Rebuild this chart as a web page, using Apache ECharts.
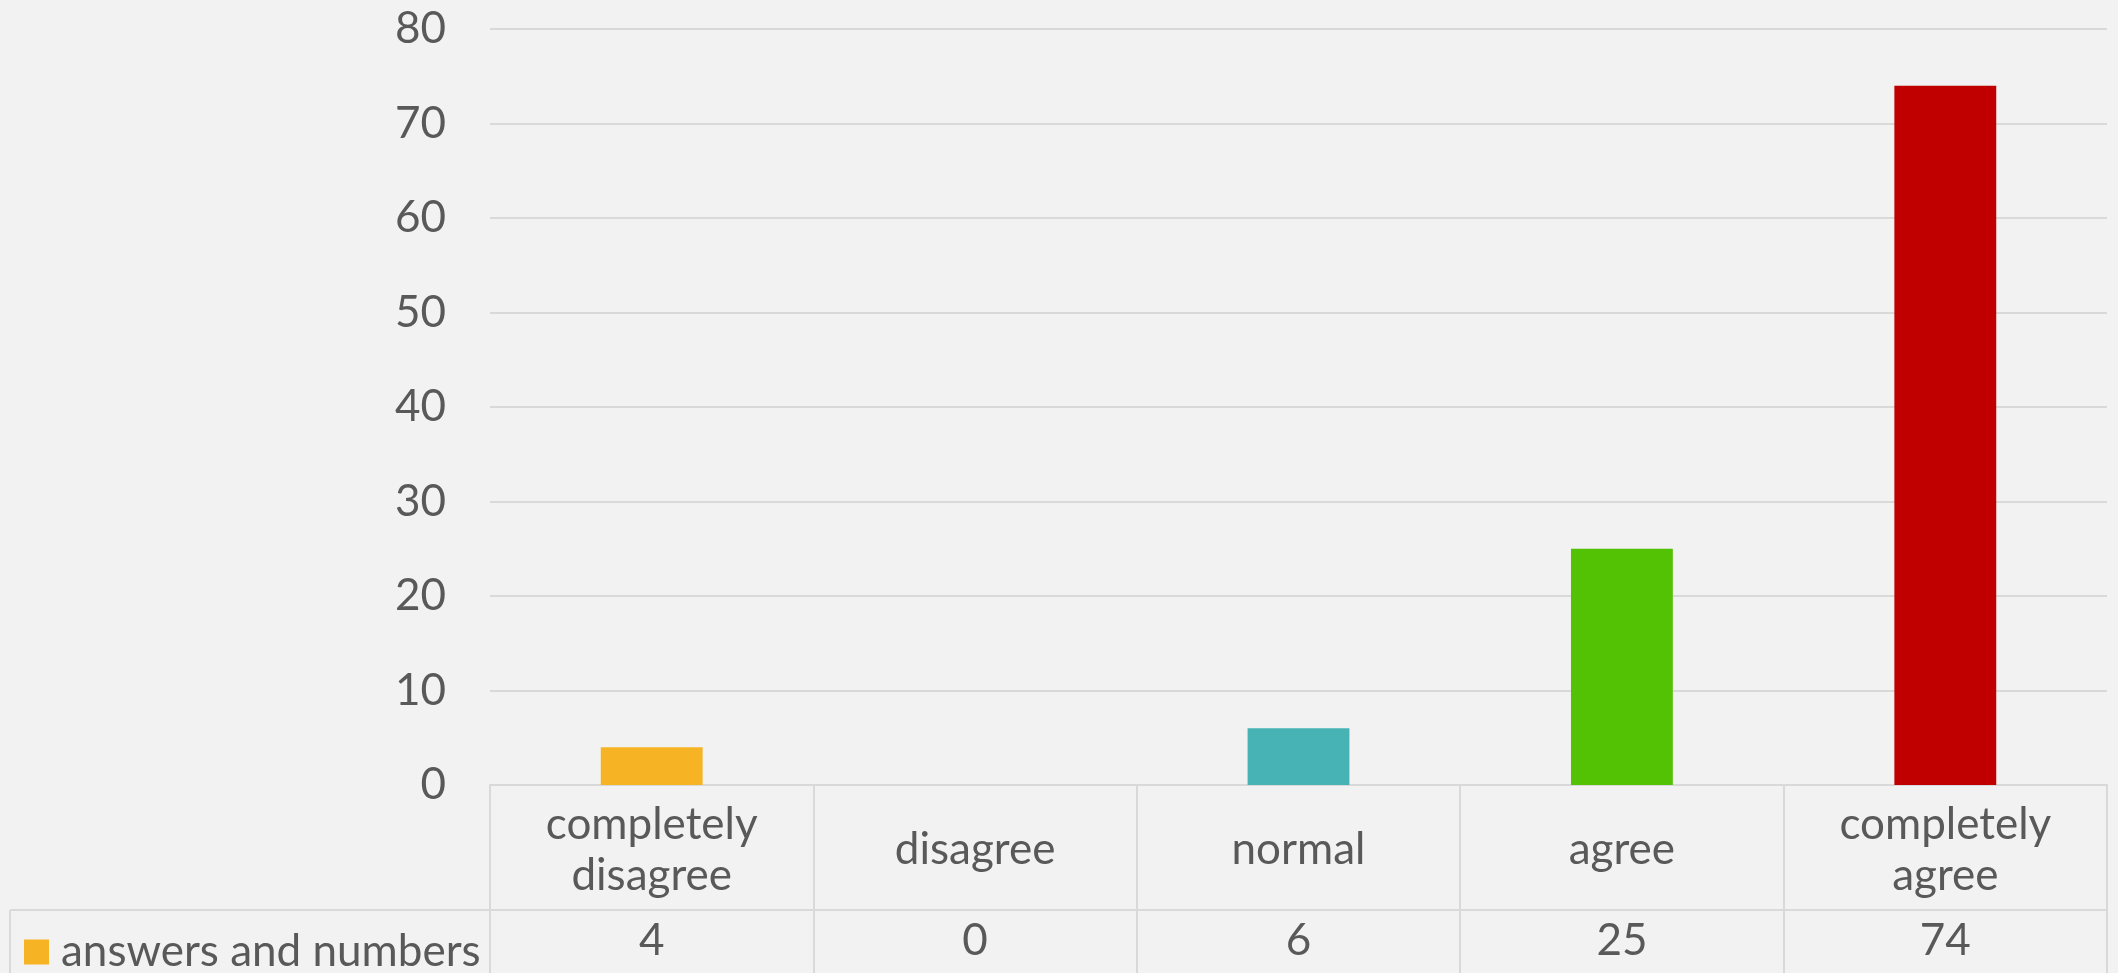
<!DOCTYPE html>
<html>
<head>
<meta charset="utf-8">
<title>answers and numbers</title>
<script src="https://cdn.jsdelivr.net/npm/echarts@6/dist/echarts.min.js"></script>
<style>
  html, body { margin: 0; padding: 0; background: #f2f2f2; }
  #chart { width: 2118px; height: 973px; }
</style>
</head>
<body>
<div id="chart"></div>
<script>
// Survey answers
const categories = ['completely\ndisagree', 'disagree', 'normal', 'agree', 'completely\nagree'];
const seriesName = 'answers and numbers';
const answerCounts = [4, 0, 6, 25, 74];
const barColors = ['#f6b323', '#a5a5a5', '#48b3b5', '#54c204', '#c00000'];
const yTicks = { min: 0, max: 80, interval: 10 };

// Layout
const W = 2118, H = 973;
const gridLeft = 490, gridRight = 11, gridTop = 29, gridBottom = 188;
const catRowH = 125;          // height of the category row of the data table
const tableLeft = 10;         // left edge of the legend cell
const lineColor = '#d9d9d9';
const textColor = '#595959';
const fontFamily = 'Lato, "Open Sans", sans-serif';
const fontSize = 44;

const axisY = H - gridBottom;           // y of the category axis line
const valueRowY = axisY + catRowH;      // top of the value row

const chart = echarts.init(document.getElementById('chart'), null, { renderer: 'canvas' });

chart.setOption({
  backgroundColor: '#f2f2f2',
  animation: false,
  textStyle: { fontFamily: fontFamily, color: textColor },
  grid: { left: gridLeft, right: gridRight, top: gridTop, bottom: gridBottom, containLabel: false },
  legend: {
    data: [seriesName],
    left: 24,
    top: valueRowY + 20,
    itemWidth: 25,
    itemHeight: 25,
    icon: 'rect',
    padding: 0,
    textStyle: { fontFamily: fontFamily, fontSize: fontSize, color: textColor, padding: [0, 0, 0, 7] }
  },
  xAxis: [
    {
      type: 'category',
      position: 'bottom',
      data: categories,
      boundaryGap: true,
      axisLine: { show: true, lineStyle: { color: lineColor, width: 2 } },
      axisTick: { show: true, alignWithLabel: false, inside: false, length: catRowH,
                  lineStyle: { color: lineColor, width: 2 } },
      axisLabel: { interval: 0, margin: 65, verticalAlign: 'middle', align: 'center',
                   fontFamily: fontFamily, fontSize: fontSize, lineHeight: 51, color: textColor },
      splitLine: { show: false }
    },
    {
      type: 'category',
      position: 'bottom',
      offset: catRowH,
      data: answerCounts.map(v => String(v)),
      boundaryGap: true,
      axisLine: { show: true, lineStyle: { color: lineColor, width: 2 } },
      axisTick: { show: true, alignWithLabel: false, inside: false, length: 80,
                  lineStyle: { color: lineColor, width: 2 } },
      axisLabel: { interval: 0, margin: 31, verticalAlign: 'middle', align: 'center',
                   fontFamily: fontFamily, fontSize: fontSize, color: textColor },
      splitLine: { show: false }
    }
  ],
  yAxis: {
    type: 'value',
    min: yTicks.min,
    max: yTicks.max,
    interval: yTicks.interval,
    axisLine: { show: false },
    axisTick: { show: false },
    axisLabel: { margin: 44, fontFamily: fontFamily, fontSize: fontSize, color: textColor },
    splitLine: { show: true, lineStyle: { color: lineColor, width: 2 } }
  },
  series: [
    {
      name: seriesName,
      type: 'bar',
      xAxisIndex: 0,
      barWidth: '31.5%',
      itemStyle: { color: barColors[0] },
      data: answerCounts.map((v, i) => ({ value: v, itemStyle: { color: barColors[i] } }))
    }
  ],
  // Border of the legend cell in the data table
  graphic: [
    { type: 'line', silent: true,
      shape: { x1: tableLeft, y1: valueRowY, x2: gridLeft, y2: valueRowY },
      style: { stroke: lineColor, lineWidth: 2 } },
    { type: 'line', silent: true,
      shape: { x1: tableLeft, y1: valueRowY, x2: tableLeft, y2: H + 5 },
      style: { stroke: lineColor, lineWidth: 2 } }
  ]
});
</script>
</body>
</html>
